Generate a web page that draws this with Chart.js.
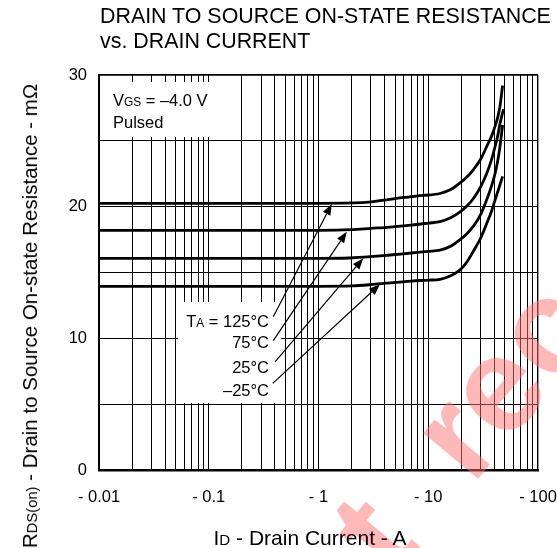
<!DOCTYPE html>
<html><head><meta charset="utf-8">
<script src="https://cdn.jsdelivr.net/npm/chart.js@4.4.1/dist/chart.umd.min.js"></script>
<style>
html,body{margin:0;padding:0;background:#fff;}
#wrap{position:relative;width:557px;height:548px;overflow:hidden;font-family:"Liberation Sans",Arial,Helvetica,sans-serif;color:#000;}
#c{position:absolute;left:0;top:0;}
.t{position:absolute;white-space:nowrap;}
.s{font-size:0.72em;}
</style></head><body>
<div id="wrap">
<canvas id="c" width="557" height="548"></canvas>
<div class="t" id="title" style="left:100px;top:4px;font-size:21.4px;line-height:25px;">DRAIN TO SOURCE ON-STATE RESISTANCE<br>vs. DRAIN CURRENT</div>
<div class="t" id="xt" style="left:310px;top:525px;font-size:21px;line-height:25px;transform:translateX(-50%);">I<span class="s">D</span> - Drain Current - A</div>
<div class="t" id="yt" style="left:31px;top:316px;font-size:20.5px;line-height:24px;transform:translate(-50%,-50%) rotate(-90deg);">R<span class="s">DS(on)</span> - Drain to Source On-state Resistance - mΩ</div>
</div>
<script>
// ---- data (drain current in A, magnitude; resistance in mΩ) ----
const current125 = [0.01, 1, 2.5, 4, 6, 9, 12.8, 16, 19.5, 22.5, 25.7, 30, 34, 37.5, 40.6, 43, 45, 47.6];
const res125     = [20.25, 20.25, 20.3, 20.5, 20.7, 20.85, 21.0, 21.3, 21.8, 22.25, 22.8, 23.6, 24.55, 25.3, 26.1, 26.8, 27.6, 29.2];
const current75  = [0.01, 1, 2, 3, 4.5, 7, 10, 12.8, 16, 19.5, 22.5, 25.7, 30, 34, 37.5, 40.6, 43, 45, 48.5];
const res75      = [18.2, 18.2, 18.25, 18.35, 18.45, 18.6, 18.75, 18.86, 19.15, 19.6, 20.05, 20.6, 21.5, 22.5, 23.5, 24.55, 25.4, 26.3, 27.4];
const current25  = [0.01, 1, 1.9, 3, 4.5, 7, 10, 12.8, 16, 19.5, 22.5, 25.7, 30, 34, 37.5, 40.6, 43, 45, 47.6];
const res25      = [16.07, 16.07, 16.1, 16.2, 16.33, 16.48, 16.6, 16.7, 17.0, 17.5, 17.95, 18.5, 19.4, 20.5, 21.5, 22.5, 23.5, 24.55, 26.2];
const currentM25 = [0.01, 1, 2, 3, 4.5, 7, 10, 12.8, 16, 19.5, 22.5, 25.7, 30, 34, 37.5, 40.6, 44, 47.6];
const resM25     = [13.95, 13.95, 13.98, 14.08, 14.22, 14.35, 14.42, 14.48, 14.75, 15.2, 15.8, 16.6, 17.6, 18.7, 19.6, 20.5, 21.4, 22.3];

const xGridValues = [0.01,0.02,0.03,0.04,0.05,0.06,0.07,0.08,0.09,
                     0.1,0.2,0.3,0.4,0.5,0.6,0.7,0.8,0.9,
                     1,2,3,4,5,6,7,8,9,
                     10,20,30,40,50,60,70,80,90,100];
const xLabelValues = [0.01, 0.1, 1, 10, 100];
const xLabelTexts  = ['- 0.01', '- 0.1', '- 1', '- 10', '- 100'];
const yGridValues  = [0, 5, 10, 15, 20, 25, 30];
const yLabelValues = [0, 10, 20, 30];

// series labels and arrows (data coordinates)
const seriesNames   = ['125°C', '75°C', '25°C', '–25°C'];
const labelCurrent  = 0.354;
const labelRes      = [10.86, 9.27, 7.37, 5.62];
const arrowFromI    = [0.387, 0.387, 0.402, 0.383];
const arrowFromR    = [11.64, 9.82, 8.22, 6.58];
const arrowToI      = [1.32, 1.81, 2.56, 3.63];
const arrowToR      = [20.2, 18.1, 16.08, 14.1];
const condCurrent   = 0.0134;
const condRes       = [27.65, 25.97];

const FONT = '"Liberation Sans", Arial, Helvetica, sans-serif';

function pts(xs, ys){ return xs.map((x,i)=>({x:x, y:ys[i]})); }

function drawRuns(ctx, runs, x, y, align, size){
  let w = 0;
  runs.forEach(r=>{ ctx.font = (size*r[1])+'px '+FONT; w += ctx.measureText(r[0]).width; });
  let cx = align === 'right' ? x - w : x;
  ctx.textAlign = 'left'; ctx.textBaseline = 'alphabetic';
  runs.forEach(r=>{ ctx.font = (size*r[1])+'px '+FONT; ctx.fillText(r[0], cx, y); cx += ctx.measureText(r[0]).width; });
}
function arrow(ctx, x1, y1, x2, y2){
  const a = Math.atan2(y2-y1, x2-x1), L = 11, W = 4.2;
  const bx = x2 - L*Math.cos(a), by = y2 - L*Math.sin(a);
  ctx.beginPath(); ctx.moveTo(x1,y1); ctx.lineTo(bx,by); ctx.stroke();
  ctx.beginPath(); ctx.moveTo(x2,y2);
  ctx.lineTo(bx - W*Math.sin(a), by + W*Math.cos(a));
  ctx.lineTo(bx + W*Math.sin(a), by - W*Math.cos(a));
  ctx.closePath(); ctx.fill();
}

const annot = {
  id: 'annot',
  beforeDatasetsDraw(chart){
    const ctx = chart.ctx, xs = chart.scales.x, ys = chart.scales.y;
    ctx.save(); ctx.fillStyle = '#fff';
    let x0 = xs.left + 1.5, x1 = xs.getPixelForValue(0.105);
    let y0 = ys.getPixelForValue(29.47), y1 = ys.getPixelForValue(25.29);
    ctx.fillRect(x0, y0, x1-x0, y1-y0);
    x0 = xs.getPixelForValue(0.0525); x1 = xs.getPixelForValue(0.455);
    y0 = ys.getPixelForValue(12.76); y1 = ys.getPixelForValue(5.09);
    ctx.fillRect(x0, y0, x1-x0, y1-y0);
    ctx.restore();
  },
  afterDatasetsDraw(chart){
    const ctx = chart.ctx, xs = chart.scales.x, ys = chart.scales.y;
    ctx.save(); ctx.fillStyle = '#000'; ctx.strokeStyle = '#000'; ctx.lineWidth = 1.2;
    const fs = 16.5;
    const cx = xs.getPixelForValue(condCurrent);
    drawRuns(ctx, [['V',1],['GS',0.72],[' = –4.0 V',1]], cx, ys.getPixelForValue(condRes[0]), 'left', fs);
    drawRuns(ctx, [['Pulsed',1]], cx, ys.getPixelForValue(condRes[1]), 'left', fs);
    const lx = xs.getPixelForValue(labelCurrent);
    seriesNames.forEach((n,i)=>{
      const runs = i === 0 ? [['T',1],['A',0.72],[' = '+n,1]] : [[n,1]];
      drawRuns(ctx, runs, lx, ys.getPixelForValue(labelRes[i]), 'right', fs);
      arrow(ctx, xs.getPixelForValue(arrowFromI[i]), ys.getPixelForValue(arrowFromR[i]),
                 xs.getPixelForValue(arrowToI[i]), ys.getPixelForValue(arrowToR[i]));
    });
    ctx.restore();
  },
  afterDraw(chart){
    // watermark
    const ctx = chart.ctx;
    ctx.save();
    ctx.translate(472, 486);
    ctx.rotate(-50*Math.PI/180);
    ctx.font = 'bold 135px ' + FONT;
    ctx.fillStyle = 'rgba(255,115,115,0.5)';
    ctx.textBaseline = 'alphabetic'; ctx.textAlign = 'left';
    ctx.fillText('recommended', 0, 0);
    ctx.fillText('not', -ctx.measureText('not').width - 78, 0);
    ctx.restore();
  }
};

const lineStyle = {borderColor:'#000', backgroundColor:'#000', borderWidth:2.8, pointRadius:0, fill:false, cubicInterpolationMode:'monotone'};

new Chart(document.getElementById('c'), {
  type: 'line',
  data: { datasets: [
    Object.assign({label:'125°C', data: pts(current125, res125)}, lineStyle),
    Object.assign({label:'75°C',  data: pts(current75, res75)}, lineStyle),
    Object.assign({label:'25°C',  data: pts(current25, res25)}, lineStyle),
    Object.assign({label:'-25°C', data: pts(currentM25, resM25)}, lineStyle)
  ]},
  options: {
    responsive: false, animation: false, devicePixelRatio: 1,
    layout: { padding: {left:0, right:19, top:75, bottom:0}, autoPadding: false },
    plugins: { legend:{display:false}, tooltip:{enabled:false}, title:{display:false} },
    scales: {
      x: {
        type: 'logarithmic', min: 0.01, max: 100, position: 'bottom',
        afterBuildTicks: a => { a.ticks = xGridValues.map(v=>({value:v})); },
        afterFit: a => { a.height = 78; a.paddingLeft = 0; a.paddingRight = 0; },
        grid: { color:'#000', lineWidth: c => (c.tick && c.tick.value === 100) ? 1.4 : 1, drawTicks:false },
        border: { display:true, color:'#000', width:2.6 },
        ticks: {
          autoSkip:false, maxRotation:0, minRotation:0, padding:18, color:'#000',
          font:{family:FONT, size:16.5},
          callback: v => { const i = xLabelValues.findIndex(l => Math.abs(l - v) / l < 1e-6); return i >= 0 ? xLabelTexts[i] : ''; }
        }
      },
      y: {
        type: 'linear', min: 0, max: 30, position: 'left',
        afterBuildTicks: a => { a.ticks = yGridValues.map(v=>({value:v})); },
        afterFit: a => { a.width = 99; a.paddingTop = 0; a.paddingBottom = 0; },
        grid: { color:'#000', lineWidth: c => (c.tick && c.tick.value === 30) ? 1.7 : 1, drawTicks:false },
        border: { display:true, color:'#000', width:2 },
        ticks: {
          padding:12, color:'#000', font:{family:FONT, size:16.5},
          callback: v => yLabelValues.includes(v) ? String(v) : ''
        }
      }
    }
  },
  plugins: [annot]
});
</script>
</body></html>
